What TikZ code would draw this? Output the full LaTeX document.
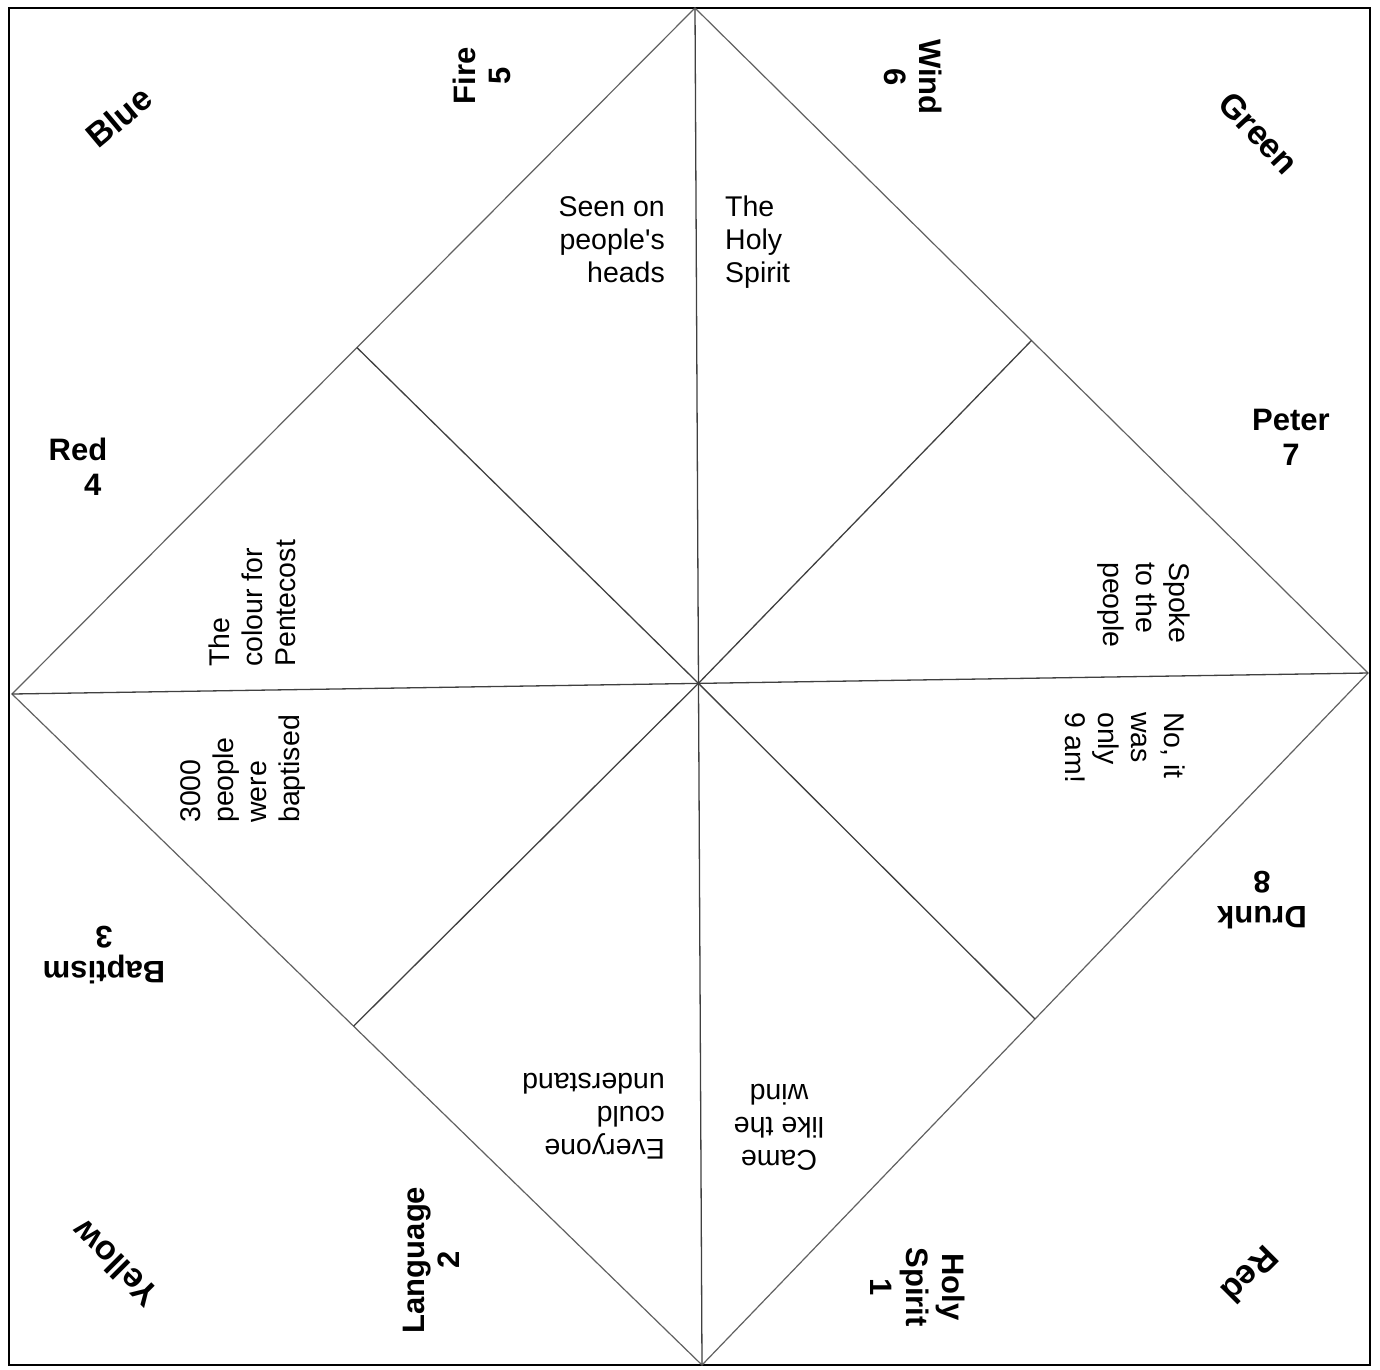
\documentclass[tikz,border=0pt]{standalone}
\usepackage{fontspec}
\setmainfont{Liberation Sans}
\usetikzlibrary{calc}
\tikzset{
  ans/.style={font=\fontsize{28.5}{33}\selectfont, inner sep=0pt},
  lab/.style={font=\fontsize{31}{35}\selectfont\bfseries, inner sep=0pt, align=center},
  corner/.style={font=\fontsize{34}{38}\selectfont\bfseries, inner sep=0pt},
  foldline/.style={draw=black!75, line width=1.3pt},
  edgeline/.style={draw=black!62, line width=1.2pt},
  frameline/.style={draw=black, line width=2.4pt},
}
\begin{document}
\begin{tikzpicture}[x=1pt, y=-1pt]
\useasboundingbox (0,0) rectangle (1380,1369);
\fill[white] (0,0) rectangle (1380,1369);
% outer square
\draw[frameline] (9,8) rectangle (1370,1365);
% diamond corners
\coordinate (T) at (695,8);
\coordinate (R) at (1368,673);
\coordinate (B) at (702,1365);
\coordinate (L) at (12,694);
\coordinate (O) at (intersection of T--B and L--R);
\coordinate (mTL) at ($(L)!0.505!(T)$);
\coordinate (mTR) at ($(T)!0.5!(R)$);
\coordinate (mBR) at ($(R)!0.5!(B)$);
\coordinate (mBL) at ($(B)!0.505!(L)$);
\draw[edgeline] (T) -- (R) -- (B) -- (L) -- cycle;
\draw[foldline] (T) -- (B);
\draw[foldline] (L) -- (R);
\draw[foldline] (mTL) -- (O);
\draw[foldline] (mTR) -- (O);
\draw[foldline] (mBR) -- (O);
\draw[foldline] (mBL) -- (O);
% corner colours
\node[corner, rotate=40] (blue) at (119,117) {Blue};
\node[corner, rotate=-47] (green) at (1259,133) {Green};
\node[corner, rotate=-135] (redc) at (1250,1275) {Red};
\node[corner, rotate=135] (yellow) at (115,1264) {Yellow};
% numbered labels
\node[lab, rotate=90] (fire) at (482,76) {Fire\\5};
\node[lab, rotate=-90] (wind) at (913,77) {Wind\\6};
\node[lab] (peter) at (1291,437) {Peter\\7};
\node[lab, rotate=180] (drunk) at (1262,900) {Drunk\\8};
\node[lab, rotate=-90, font=\fontsize{31}{36}\selectfont\bfseries] (holysp) at (918,1287) {Holy\\Spirit\\1};
\node[lab, rotate=90, font=\fontsize{31}{35}\selectfont\bfseries] (lang) at (431,1260) {Language\\2};
\node[lab, rotate=180] (baptism) at (104,955) {Baptism\\3};
\node[lab, align=right] (red4) at (78,467) {Red\\4\hspace*{6pt}};
% answers
\node[ans, align=right, anchor=east] (seen) at (665,240) {Seen on\\people\textquotesingle s\\heads};
\node[ans, align=left, anchor=west] (holy) at (725,242) {The\\Holy\\Spirit};
\node[ans, align=left, rotate=-90, anchor=west] (spoke) at (1144,562) {Spoke\\to the\\people};
\node[ans, align=left, rotate=-90, anchor=west] (noit) at (1125,712) {No, it\\was\\only\\9 am!};
\node[ans, align=left, rotate=180, anchor=west] (every) at (665,1116) {Everyone\\could\\understand};
\node[ans, align=center, rotate=180] (came) at (779,1127) {Came\\like the\\wind};
\node[ans, align=left, rotate=90, anchor=west] (colour) at (252,667) {The\\colour for\\Pentecost};
\node[ans, align=left, rotate=90, anchor=west] (bapt) at (243,823) {3000\\people\\were\\baptised};
\end{tikzpicture}
\end{document}
